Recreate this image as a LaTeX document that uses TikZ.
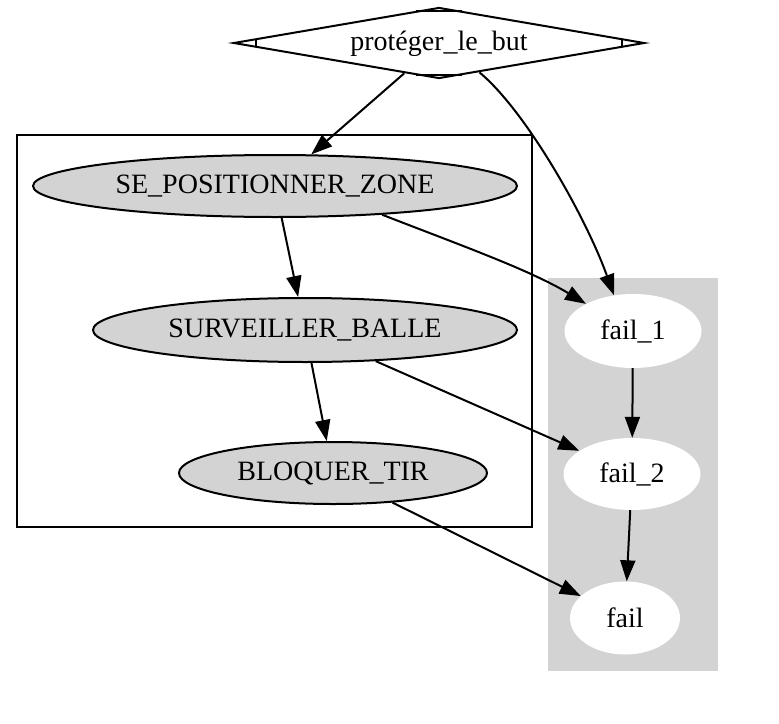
\documentclass[tikz,border=0pt]{standalone}
\usepackage{fontspec}
\setmainfont{Liberation Serif}
\usetikzlibrary{shapes.geometric,arrows.meta}
\definecolor{gvgray}{RGB}{211,211,211}
\begin{document}
\begin{tikzpicture}[x=1pt,y=-1pt,
  every node/.style={font=\fontsize{28}{32}\selectfont, inner sep=0pt},
  task/.style={ellipse, draw, line width=2pt, fill=gvgray},
  failnode/.style={ellipse, fill=white},
  edge/.style={line width=2pt, -{Triangle[length=21pt,width=15pt]}}]
\useasboundingbox (0,0) rectangle (779,723);
% clusters
\draw[line width=2pt, fill=white] (17,135) rectangle (532,527);
\fill[gvgray] (548,278) rectangle (718,671);
% nodes
\node[diamond, draw, line width=2pt, fill=white, minimum width=411pt, minimum height=71pt] (d) at (439,43) {};
\node at (439,44) {protéger\_le\_but};
\draw[line width=2pt] (256,39) -- (256,47);
\draw[line width=2pt] (622,39) -- (622,47);
\draw[line width=2pt] (416,11) -- (462,11);
\draw[line width=2pt] (416,75) -- (462,75);
\node[task, minimum width=484pt, minimum height=62pt] (se) at (275,186) {SE\_POSITIONNER\_ZONE};
\node[task, minimum width=424pt, minimum height=64pt] (sb) at (305,330) {SURVEILLER\_BALLE};
\node[task, minimum width=308pt, minimum height=62pt] (bt) at (333,473) {BLOQUER\_TIR};
\node[failnode, minimum width=137pt, minimum height=74pt] (f1) at (633,331) {fail\_1};
\node[failnode, minimum width=137pt, minimum height=72pt] (f2) at (632,474) {fail\_2};
\node[failnode, minimum width=110pt, minimum height=73pt] (f) at (625,618) {fail};
% edges
\draw[edge] (d) -- (se);
\draw[edge] (d.-36) .. controls (525,110) and (585,215) .. (f1.118);
\draw[edge] (se.-15) .. controls (460,245) and (530,270) .. (f1.150);
\draw[edge] (se) -- (sb);
\draw[edge] (sb) -- (bt);
\draw[edge] (sb) -- (f2);
\draw[edge] (bt) -- (f);
\draw[edge] (f1) -- (f2);
\draw[edge] (f2) -- (f);
\end{tikzpicture}
\end{document}
